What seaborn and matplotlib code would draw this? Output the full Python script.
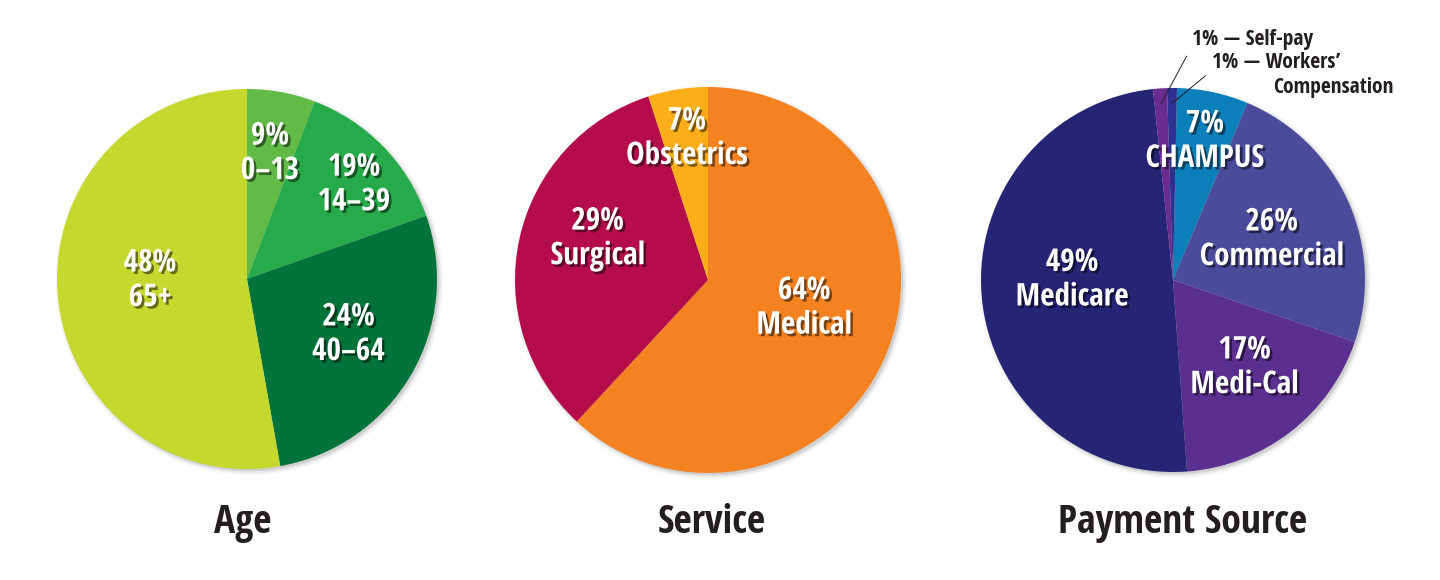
import numpy as np
import matplotlib
matplotlib.use("Agg")
import matplotlib.pyplot as plt
import matplotlib.patheffects as pe
from matplotlib import font_manager as fm
from matplotlib.patches import Circle
import seaborn as sns

# ---------------- data ----------------
age_groups = ["0–13", "14–39", "40–64", "65+"]
age_pct_labels = [9, 19, 24, 48]
age_shares = [5.8, 13.8, 27.6, 52.8]          # wedge sizes as drawn

service_groups = ["Medical", "Surgical", "Obstetrics"]
service_pct_labels = [64, 29, 7]
service_shares = [61.9, 33.1, 5.0]

pay_groups = ["CHAMPUS", "Commercial", "Medi-Cal", "Medicare", "Self-pay", "Workers’ Compensation"]
pay_pct_labels = [7, 26, 17, 49, 1, 1]
pay_shares = [6.0, 23.9, 18.6, 49.5, 1.17, 0.83]

titles = ["Age", "Service", "Payment Source"]

# ---------------- style ----------------
sns.set_theme(style="white")
age_colors = sns.color_palette(["#62bb46", "#27aa4a", "#00733a", "#c5d82e"])
service_colors = sns.color_palette(["#f48221", "#b40d4a", "#fbae17"])
pay_colors = sns.color_palette(["#0a7fba", "#4a4b9b", "#5b2f8f", "#262474", "#6b2c91", "#2e3192"])
TEXT_DARK = "#231f20"


def pick_font():
    prefs = ["Open Sans", "Roboto", "Liberation Sans Narrow", "DejaVu Sans"]
    cands = []
    for f in fm.fontManager.ttflist:
        name = f.name
        w = f.weight if isinstance(f.weight, int) else (700 if "bold" in str(f.weight).lower() else 400)
        cond = ("condensed" in str(f.stretch).lower() or "narrow" in name.lower()
                or "condensed" in name.lower() or "Condensed" in f.fname or "Narrow" in f.fname)
        if cond and w >= 600 and "Oblique" not in f.fname and "Italic" not in f.fname:
            cands.append(f)
    for p in prefs:
        for f in cands:
            if p.split()[0] in f.name:
                return fm.FontProperties(fname=f.fname)
    if cands:
        return fm.FontProperties(fname=cands[0].fname)
    return fm.FontProperties(family="DejaVu Sans", weight="bold")


FP = pick_font()

W, H = 1440, 580
fig = plt.figure(figsize=(W / 100, H / 100), dpi=100)
fig.patch.set_facecolor("white")

# layout: pie centre (px from left, px from top) and radius (px)
layout = [
    dict(cx=247, cy=279, r=190),
    dict(cx=708, cy=280, r=193),
    dict(cx=1173, cy=280, r=192),
]
title_x = [243, 712, 1183]
title_baseline = 533

shadow = [pe.SimplePatchShadow(offset=(1.8, -1.8), shadow_rgbFace="black", alpha=0.5), pe.Normal()]


def make_ax(L):
    ax = fig.add_axes([(L["cx"] - L["r"]) / W, (H - L["cy"] - L["r"]) / H, 2 * L["r"] / W, 2 * L["r"] / H])
    return ax


def finish_ax(ax):
    ax.set_xlim(-1, 1)
    ax.set_ylim(-1, 1)
    ax.set_aspect("equal")
    ax.axis("off")
    # soft drop shadow under the pie
    for k, a in zip([1.0, 1.01, 1.02], [0.10, 0.06, 0.03]):
        ax.add_patch(Circle((0.012, -0.012), k, color="black", alpha=a, lw=0, zorder=0, clip_on=False))


def draw_pie(ax, shares, colors, startangle):
    wedges, _ = ax.pie(shares, colors=colors, startangle=startangle, counterclock=False,
                       radius=1.0, wedgeprops=dict(linewidth=0, antialiased=True))
    for w in wedges:
        w.set_zorder(2)
        w.set_clip_on(False)
    finish_ax(ax)
    return wedges


def mid(w):
    return np.deg2rad((w.theta1 + w.theta2) / 2)


def put_label(ax, w, pct, name, dist, dang=0.0, size=22.5):
    a = mid(w) + np.deg2rad(dang)
    ax.text(dist * np.cos(a), dist * np.sin(a), f"{pct}%\n{name}", ha="center", va="center",
            color="white", fontproperties=FP, fontsize=size, linespacing=1.2,
            path_effects=shadow, zorder=5)


# ---- Age ----
ax1 = make_ax(layout[0])
w1 = draw_pie(ax1, age_shares, age_colors, 90)
age_dist = [0.67, 0.75, 0.61, 0.51]
age_dang = [0, -3, 1.5, -4]
for w, p, n, d, da in zip(w1, age_pct_labels, age_groups, age_dist, age_dang):
    put_label(ax1, w, p, n, d, da)

# ---- Service ----
ax2 = make_ax(layout[1])
w2 = draw_pie(ax2, service_shares, service_colors, 90)
svc_dist = [0.52, 0.61, 0.74]
svc_dang = [5, -8, -0.5]
for w, p, n, d, da in zip(w2, service_pct_labels, service_groups, svc_dist, svc_dang):
    put_label(ax2, w, p, n, d, da)

# ---- Payment Source ----
ax3 = make_ax(layout[2])
w3 = draw_pie(ax3, pay_shares, pay_colors, 88.8)
pay_dist = [0.74, 0.555, 0.59, 0.525]
pay_dang = [-1, -2, 1.5, -5]
for w, p, n, d, da in zip(w3[:4], pay_pct_labels[:4], pay_groups[:4], pay_dist, pay_dang):
    put_label(ax3, w, p, n, d, da)


# small slices: call-outs
def callout(ax, w, text, text_px, rad=0.92, relpos=(0.0, 0.15)):
    a = mid(w)
    ax.annotate(text, xy=(rad * np.cos(a), rad * np.sin(a)), xycoords="data",
                xytext=(text_px[0], H - text_px[1]), textcoords="figure pixels",
                ha="left", va="center", color=TEXT_DARK, fontproperties=FP, fontsize=15.5,
                arrowprops=dict(arrowstyle="-", color=TEXT_DARK, lw=0.7, shrinkA=3, shrinkB=0,
                                relpos=relpos),
                zorder=6, annotation_clip=False)


callout(ax3, w3[4], f"{pay_pct_labels[4]}% — Self-pay", (1192, 39))
callout(ax3, w3[5], f"{pay_pct_labels[5]}% — Workers’", (1212, 63))
fig.text(1273 / W, 1 - 88 / H, "Compensation", ha="left", va="center", color=TEXT_DARK,
         fontproperties=FP, fontsize=15.5)

# titles
for t, x in zip(titles, title_x):
    fig.text(x / W, 1 - title_baseline / H, t, ha="center", va="baseline", color=TEXT_DARK,
             fontproperties=FP, fontsize=28.5)

fig.savefig("out.png", dpi=100, facecolor="white")
